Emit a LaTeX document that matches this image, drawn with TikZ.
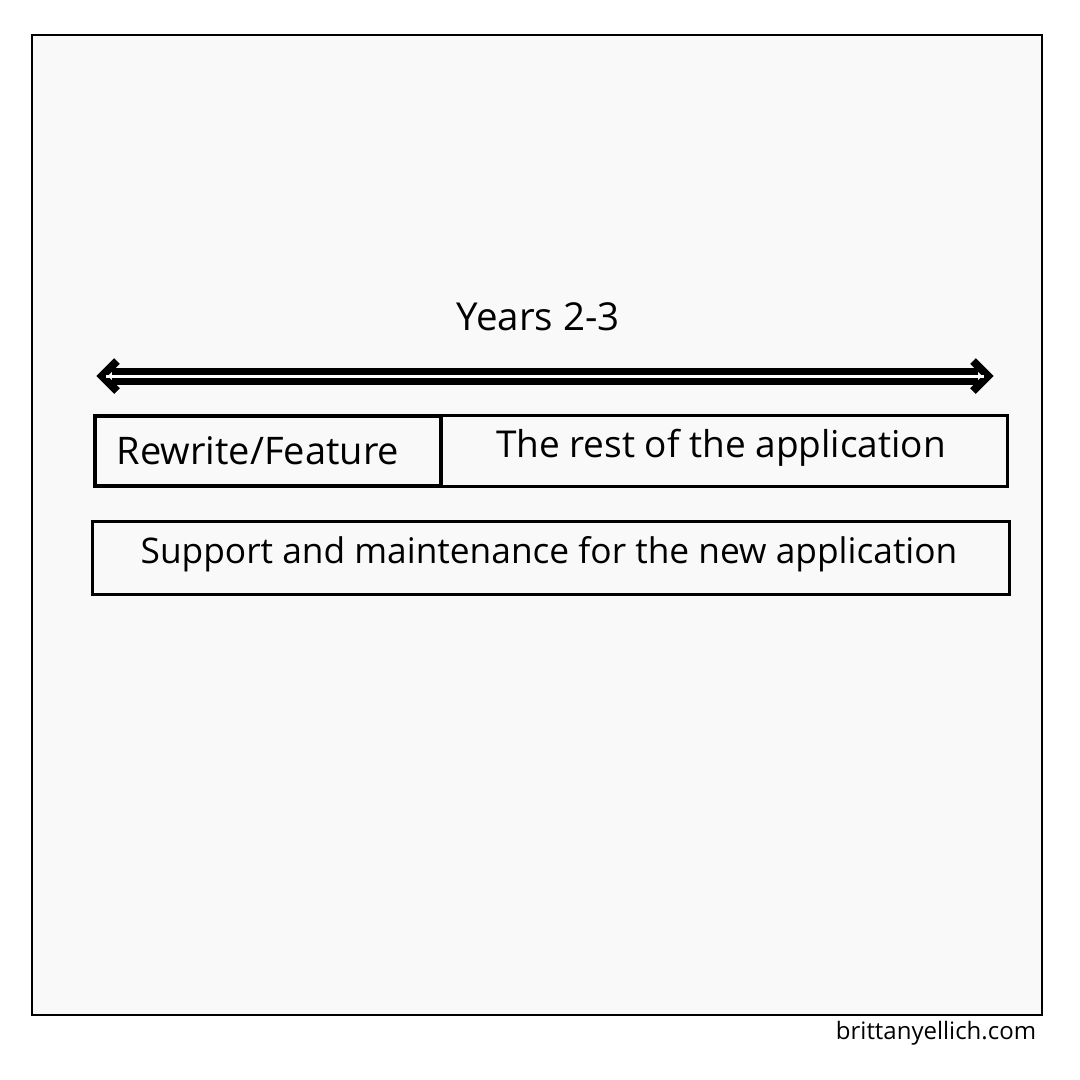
\documentclass[tikz,border=0pt]{standalone}
\usepackage{fontspec}
\setmainfont{Open Sans}
\usetikzlibrary{calc}
\definecolor{panel}{HTML}{F9F9F9}
\tikzset{
  lbl/.style={font=\fontsize{36}{40}\selectfont, inner sep=0pt, anchor=center},
  boxline/.style={draw=black, line width=3pt, minimum width=10pt, inner sep=0pt},
  chev/.style={line width=8pt, line join=miter, miter limit=4},
}
\begin{document}
\begin{tikzpicture}[x=1pt,y=-1pt]
\useasboundingbox (0,0) rectangle (1080,1080);
\fill[white] (0,0) rectangle (1080,1080);
\draw[fill=panel, line width=1.5pt] (32,35) rectangle (1042,1015);
\node[lbl, font=\fontsize{38.5}{42}\selectfont] (years) at (538,317) {Years 2-3};
% arrow
\coordinate (aL) at (102,376);
\coordinate (aR) at (988,376);
\draw[chev] ($(aL)+(15,-15)$) -- (aL) -- ($(aL)+(15,15)$);
\draw[chev] ($(aR)+(-15,-15)$) -- (aR) -- ($(aR)+(-15,15)$);
\draw[line width=17pt] ($(aL)+(10,0)$) -- ($(aR)+(-10,0)$);
\draw[line width=3pt, white] ($(aL)+(4,0)$) -- ($(aR)+(-4,0)$);
% boxes
\node[boxline, minimum width=346pt, minimum height=70pt, line width=4.5pt] (rw) at (268,451) {};
\node[boxline, minimum width=566pt, minimum height=71pt] (rest) at (724,450.5) {};
\node[boxline, minimum width=917pt, minimum height=73pt] (sup) at (550.5,557.5) {};
\node[lbl, font=\fontsize{38}{42}\selectfont] (rwt) at (258,451) {Rewrite/Feature};
\node[lbl, font=\fontsize{37}{41}\selectfont] (restt) at (721,448) {The rest of the application};
\node[lbl, font=\fontsize{35.3}{40}\selectfont] (supt) at (549,554) {Support and maintenance for the new application};
\node[font=\fontsize{24}{28}\selectfont, inner sep=0pt] (foot) at (936,1033) {brittanyellich.com};
\end{tikzpicture}
\end{document}
